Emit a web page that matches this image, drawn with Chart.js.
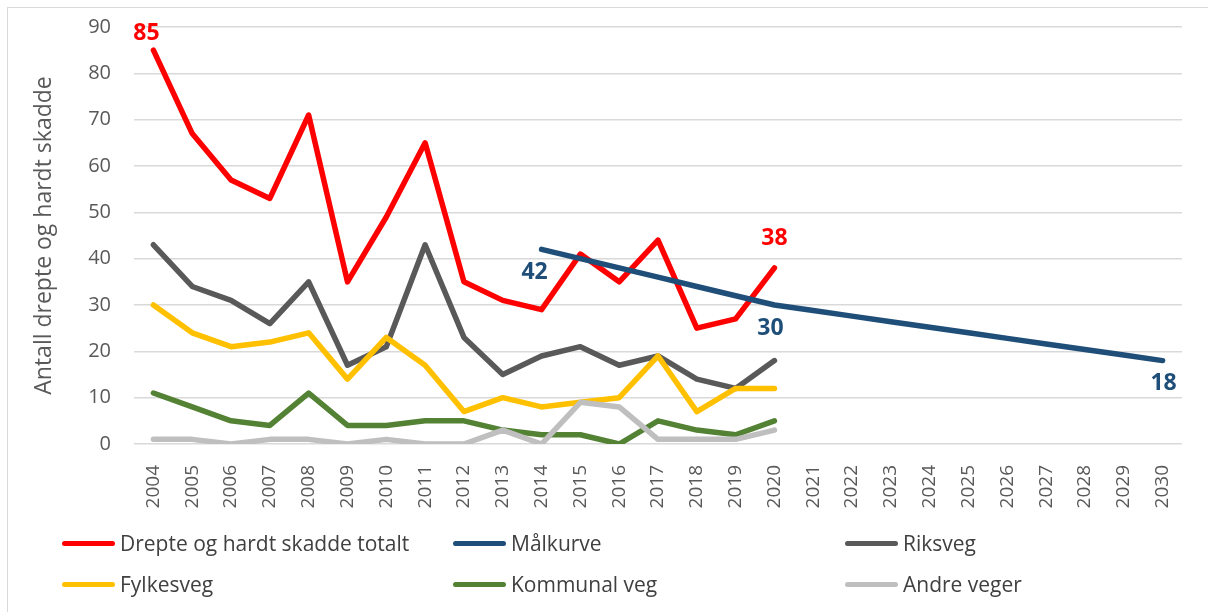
<!DOCTYPE html>
<html>
<head>
<meta charset="utf-8">
<script src="https://cdn.jsdelivr.net/npm/chart.js@4"></script>
<style>
  body { margin: 0; background: #fff; font-family: "Open Sans", sans-serif; }
  #wrap { position: relative; width: 1208px; height: 612px; overflow: hidden; }
  #frame { position: absolute; left: 7px; top: 7px; width: 1400px; height: 800px;
           border-left: 1px solid #d9d9d9; border-top: 1px solid #d9d9d9; }
  canvas { position: absolute; left: 0; top: 0; }
  #legend { position: absolute; left: 0; top: 0; }
  .lg-item { position: absolute; height: 28px; display: flex; align-items: center;
             font-size: 21px; color: #404040; white-space: nowrap; }
  .lg-swatch { width: 53px; height: 5px; border-radius: 3px; margin-right: 5px; }
</style>
</head>
<body>
<div id="wrap">
  <div id="frame"></div>
  <canvas id="chart" width="1208" height="612"></canvas>
  <div id="legend"></div>
</div>
<script>
// ── Data ──
const years = ['2004','2005','2006','2007','2008','2009','2010','2011','2012','2013','2014','2015','2016','2017','2018','2019','2020',
               '2021','2022','2023','2024','2025','2026','2027','2028','2029','2030'];
const total     = [85, 67, 57, 53, 71, 35, 49, 65, 35, 31, 29, 41, 35, 44, 25, 27, 38];
const malkurve  = [null, null, null, null, null, null, null, null, null, null,
                   42, 40, 38, 36, 34, 32, 30, 28.8, 27.6, 26.4, 25.2, 24, 22.8, 21.6, 20.4, 19.2, 18];
const riksveg   = [43, 34, 31, 26, 35, 17, 21, 43, 23, 15, 19, 21, 17, 19, 14, 12, 18];
const fylkesveg = [30, 24, 21, 22, 24, 14, 23, 17, 7, 10, 8, 9, 10, 19, 7, 12, 12];
const kommunal  = [11, 8, 5, 4, 11, 4, 4, 5, 5, 3, 2, 2, 0, 5, 3, 2, 5];
const andre     = [1, 1, 0, 1, 1, 0, 1, 0, 0, 3, 0, 9, 8, 1, 1, 1, 3];
const yTicks    = [0, 10, 20, 30, 40, 50, 60, 70, 80, 90];

const seriesNames  = ['Drepte og hardt skadde totalt', 'Målkurve', 'Riksveg', 'Fylkesveg', 'Kommunal veg', 'Andre veger'];
const seriesData   = [total, malkurve, riksveg, fylkesveg, kommunal, andre];
const seriesColors = ['#FF0000', '#1F4E79', '#595959', '#FFC000', '#548235', '#BFBFBF'];

// value labels: which series / year gets its number written, and where
const valueLabels = [
  { series: 0, year: '2004', dx: -7, dy: -17 },
  { series: 0, year: '2020', dx: 0,  dy: -29 },
  { series: 1, year: '2014', dx: -7, dy: 23 },
  { series: 1, year: '2020', dx: -4, dy: 23 },
  { series: 1, year: '2030', dx: 1,  dy: 23 },
];

const labelPlugin = {
  id: 'valueLabels',
  afterDatasetsDraw(chart) {
    const ctx = chart.ctx;
    ctx.save();
    ctx.font = 'bold 23px "Open Sans"';
    ctx.textAlign = 'center';
    ctx.textBaseline = 'middle';
    valueLabels.forEach(l => {
      const i = years.indexOf(l.year);
      const pt = chart.getDatasetMeta(l.series).data[i];
      const v = chart.data.datasets[l.series].data[i];
      ctx.fillStyle = seriesColors[l.series];
      ctx.fillText(String(v), pt.x + l.dx, pt.y + l.dy);
    });
    ctx.restore();
  }
};

const chart = new Chart(document.getElementById('chart'), {
  type: 'line',
  data: {
    labels: years,
    datasets: seriesNames.map((name, k) => ({
      label: name,
      data: seriesData[k],
      borderColor: seriesColors[k],
      backgroundColor: seriesColors[k],
      borderWidth: 5.5,
      borderCapStyle: 'round',
      borderJoinStyle: 'round',
      pointRadius: 0,
      tension: 0,
      fill: false,
      order: seriesNames.length - 1 - k,
    }))
  },
  options: {
    responsive: false,
    animation: false,
    layout: { padding: { top: 27, right: 26, bottom: 99, left: 0 } },
    plugins: { legend: { display: false }, tooltip: { enabled: false } },
    scales: {
      x: {
        offset: true,
        grid: { display: false },
        border: { display: false },
        ticks: {
          color: '#595959', font: { size: 19, family: 'Open Sans' },
          minRotation: 90, maxRotation: 90, autoSkip: false, padding: 13,
        },
        afterFit: s => { s.height = 69; },
      },
      y: {
        min: 0, max: 90,
        afterBuildTicks: s => { s.ticks = yTicks.map(v => ({ value: v })); },
        grid: { color: '#d9d9d9', lineWidth: 1.5, drawTicks: false },
        border: { display: false },
        ticks: { color: '#595959', font: { size: 20, family: 'Open Sans' }, padding: 23 },
        title: {
          display: true, text: 'Antall drepte og hardt skadde',
          color: '#595959', font: { size: 23, family: 'Open Sans' },
          padding: { top: 31, bottom: 0 },
        },
        afterFit: s => { s.width = 134; s.paddingTop = 0; s.paddingBottom = 0; },
      }
    }
  },
  plugins: [labelPlugin]
});

// ── Legend (3 columns, 2 rows) ──
const legendCols = [62, 453, 845];
const legendRows = [543, 584];
document.getElementById('legend').innerHTML = seriesNames.map((name, k) => `
  <div class="lg-item" style="left:${legendCols[k % 3]}px; top:${legendRows[Math.floor(k / 3)] - 14}px">
    <div class="lg-swatch" style="background:${seriesColors[k]}"></div>${name}
  </div>`).join('');
</script>
</body>
</html>
